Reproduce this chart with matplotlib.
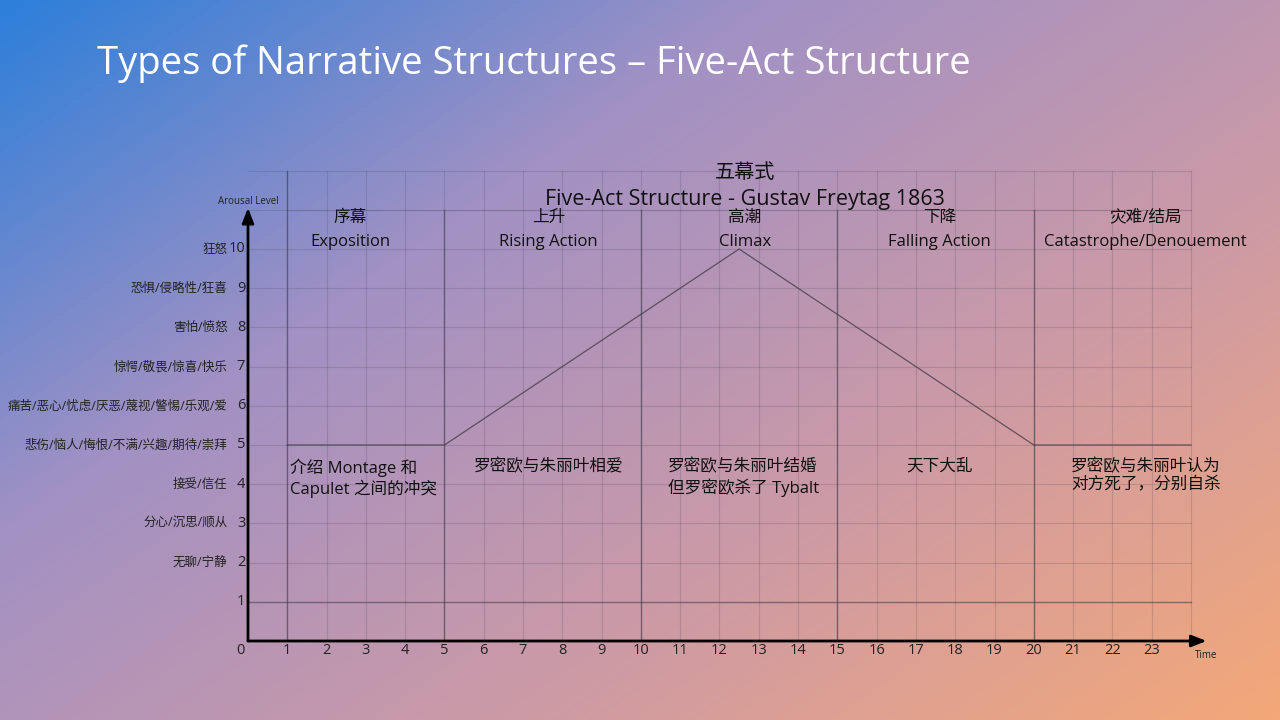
import matplotlib.pyplot as plt
import numpy as np
from matplotlib.colors import LinearSegmentedColormap

# data
levels = [1, 2, 3, 4, 5, 6, 7, 8, 9, 10]
emotions = ['', '无聊/宁静', '分心/沉思/顺从', '接受/信任',
            '悲伤/恼人/悔恨/不满/兴趣/期待/崇拜',
            '痛苦/恶心/忧虑/厌恶/蔑视/警惕/乐观/爱',
            '惊愕/敬畏/惊喜/快乐', '害怕/愤怒', '恐惧/侵略性/狂喜', '狂怒']
time_ticks = list(range(0, 24))
act_bounds = [1, 5, 10, 15, 20]
acts_cn = ['序幕', '上升', '高潮', '下降', '灾难/结局']
acts_en = ['Exposition', 'Rising Action', 'Climax', 'Falling Action',
           'Catastrophe/Denouement']
notes = ['介绍 Montage 和\nCapulet 之间的冲突', '罗密欧与朱丽叶相爱',
         '罗密欧与朱丽叶结婚\n但罗密欧杀了 Tybalt', '天下大乱',
         '罗密欧与朱丽叶认为\n对方死了，分别自杀']
arc_x = [1, 5, 12.5, 20, 24]
arc_y = [5, 5, 10, 5, 5]

plt.rcParams['font.family'] = ['Open Sans', 'Noto Sans CJK SC', 'DejaVu Sans']

fig = plt.figure(figsize=(12.8, 7.2), dpi=100)

# background gradient
bg = fig.add_axes([0, 0, 1, 1])
cmap = LinearSegmentedColormap.from_list('bg', ['#2c7fda', '#a291c4', '#cc9aa6', '#f4a878'])
xx, yy = np.meshgrid(np.linspace(0, 1, 320), np.linspace(0, 1, 180))
bg.imshow(0.55 * xx + 0.45 * yy, cmap=cmap, aspect='auto', extent=[0, 1, 1, 0])
bg.set_axis_off()

fig.text(97 / 1280, 1 - 64 / 720, 'Types of Narrative Structures – Five-Act Structure',
         color='white', fontsize=27.5, va='center', ha='left')

# main chart, 39.29 px per x unit, 39.2 px per y unit
ux, uy = 39.29, 39.2
ax = fig.add_axes([248 / 1280, 79 / 720, 25 * ux / 1280, 12.5 * uy / 720])
ax.set_xlim(0, 25)
ax.set_ylim(0, 12.5)
ax.set_axis_off()

grid_c = '#3a3a4a'
for x in range(1, 25):
    ax.plot([x, x], [0, 12], color=grid_c, lw=0.8, alpha=0.18)
for y in range(1, 13):
    ax.plot([0, 24], [y, y], color=grid_c, lw=0.8, alpha=0.18)
ax.plot([0, 24], [1, 1], color=grid_c, lw=1, alpha=0.45)
ax.plot([1, 24], [11, 11], color=grid_c, lw=0.8, alpha=0.15)
for i, b in enumerate(act_bounds):
    top = 12 if i == 0 else 11
    ax.plot([b, b], [0, top], color=grid_c, lw=1, alpha=0.55)

ax.plot(arc_x, arc_y, color='#3d3845', lw=0.9, alpha=0.75)

# axes arrows
ax.annotate('', xy=(24.4, 0), xytext=(0, 0),
            arrowprops=dict(arrowstyle='-|>,head_length=0.9,head_width=0.35',
                            color='black', lw=2, shrinkA=0, shrinkB=0))
ax.annotate('', xy=(0, 11.05), xytext=(0, 0),
            arrowprops=dict(arrowstyle='-|>,head_length=0.9,head_width=0.35',
                            color='black', lw=2, shrinkA=0, shrinkB=0))
ax.text(0, 11.2, 'Arousal Level', fontsize=7, ha='center', va='center', color='#222')
ax.text(24.4, -0.38, 'Time', fontsize=7, ha='center', va='center', color='#222')

for t in time_ticks:
    ax.text(t - (0.2 if t == 0 else 0), -0.23, str(t), fontsize=10.5, ha='center',
            va='center', color='#222')
for lv, emo in zip(levels, emotions):
    ax.text(-0.07, lv, str(lv), fontsize=10.5, ha='right', va='center', color='#222')
    if emo:
        ax.text(-0.52, lv, emo, fontsize=9, ha='right', va='center', color='#222')

ax.text(12.65, 11.95, '五幕式', fontsize=14.5, ha='center', va='center', color='#111')
ax.text(12.65, 11.25, 'Five-Act Structure - Gustav Freytag 1863', fontsize=15.5,
        ha='center', va='center', color='#111')

act_centers = [2.6, 7.65, 12.65, 17.6, 22.85]
for cx, cn, en in zip(act_centers, acts_cn, acts_en):
    ax.text(cx, 10.8, cn, fontsize=12, ha='center', va='center', color='#111')
    ax.text(cx, 10.17, en, fontsize=12, ha='center', va='center', color='#111')

note_x = [1.07, 7.65, 10.68, 17.6, 22.85]
note_ha = ['left', 'center', 'left', 'center', 'center']
for nx, ha, note in zip(note_x, note_ha, notes):
    ax.text(nx, 4.65, note, fontsize=12, ha=ha, va='top', color='#111',
            linespacing=1.2, multialignment='left')

fig.savefig('out.png', dpi=100)
